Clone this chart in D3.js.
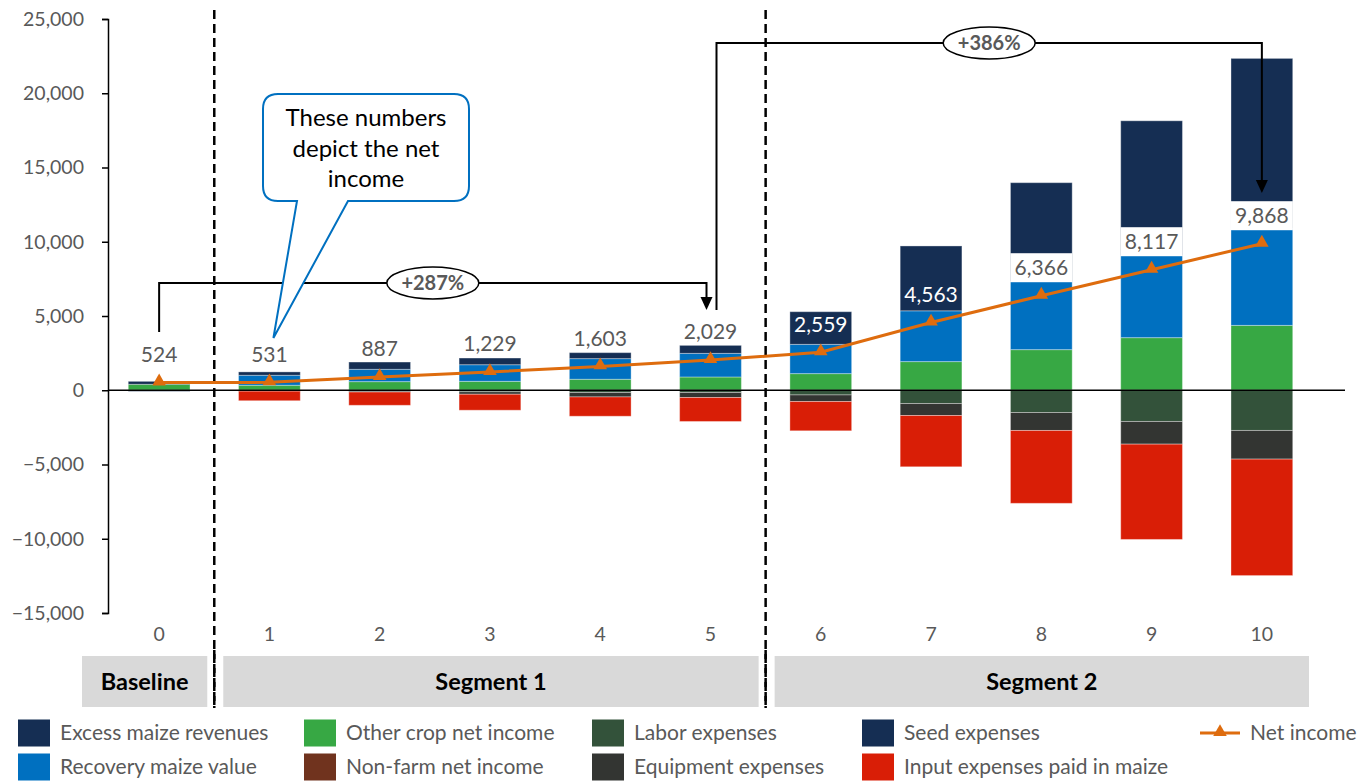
<!DOCTYPE html>
<html>
<head>
<meta charset="utf-8">
<script src="https://cdn.jsdelivr.net/npm/d3@7"></script>
<style>
  html, body { margin: 0; padding: 0; background: #fff; }
  svg { display: block; font-family: Lato, "Noto Sans", sans-serif; }
</style>
</head>
<body>
<svg id="chart" width="1359" height="782"></svg>
<script>
// ---------------- data ----------------
const years = ["0", "1", "2", "3", "4", "5", "6", "7", "8", "9", "10"];
const excessMaize   = [200, 228, 490, 450, 403, 538, 2200, 4368, 6653, 9073, 11460];
const recoveryMaize = [0, 672, 830, 1120, 1390, 1590, 1970, 3420, 4590, 5531, 6519];
const otherCrop     = [400, 336, 580, 600, 740, 894, 1120, 1929, 2735, 3542, 4368];
const nonFarm       = [0, 0, 0, 0, 0, 0, 0, 0, 0, 0, 0];
const labor         = [0, -30, -60, -100, -150, -150, -316, -894, -1499, -2103, -2708];
const equipment     = [0, -30, -60, -170, -300, -340, -444, -806, -1210, -1526, -1929];
const inputMaize    = [0, -645, -893, -1075, -1300, -1613, -1970, -3454, -4906, -6418, -7843];
const seed          = [-76, 0, 0, 0, 0, 0, 0, 0, 0, 0, 0];
const netIncome     = [524, 531, 887, 1229, 1603, 2029, 2559, 4563, 6366, 8117, 9868];
const yTicks = [-15000, -10000, -5000, 0, 5000, 10000, 15000, 20000, 25000];
const segments = [
  {name: "Baseline", from: "0", to: "0"},
  {name: "Segment 1", from: "1", to: "5"},
  {name: "Segment 2", from: "6", to: "10"}
];
const growthLabels = ["+287%", "+386%"];
const calloutText = ["These numbers", "depict the net", "income"];

const series = [
  {key: "other",     name: "Other crop net income",        values: otherCrop,     color: "#37A844"},
  {key: "nonfarm",   name: "Non-farm net income",          values: nonFarm,       color: "#70331E"},
  {key: "recovery",  name: "Recovery maize value",         values: recoveryMaize, color: "#0070C0"},
  {key: "excess",    name: "Excess maize revenues",        values: excessMaize,   color: "#152E53"},
  {key: "labor",     name: "Labor expenses",               values: labor,         color: "#33523A"},
  {key: "equipment", name: "Equipment expenses",           values: equipment,     color: "#333532"},
  {key: "input",     name: "Input expenses paid in maize", values: inputMaize,    color: "#D91E06"},
  {key: "seed",      name: "Seed expenses",                values: seed,          color: "#152E53"}
];
const lineColor = "#DE6C0E";
const textGrey = "#595959";

// ---------------- scales ----------------
const svg = d3.select("#chart");
const x = d3.scaleBand().domain(years).range([104, 1317]).paddingInner(0.44).paddingOuter(0.22);
const y = d3.scaleLinear().domain([-15000, 25000]).range([613, 19]);
const cx = d => x(d) + x.bandwidth() / 2;

const table = years.map((yr, i) => {
  const row = {year: yr};
  series.forEach(s => row[s.key] = s.values[i]);
  return row;
});
const stacked = d3.stack().keys(series.map(s => s.key)).offset(d3.stackOffsetDiverging)(table);

// ---------------- axes ----------------
const yAxis = svg.append("g").attr("transform", "translate(108,0)")
  .call(d3.axisLeft(y).tickValues(yTicks).tickSize(6).tickPadding(18).tickFormat(d3.format(",")));
yAxis.select(".domain").attr("stroke", "#000").attr("stroke-width", 1.5);
yAxis.selectAll(".tick line").attr("stroke", "#000").attr("stroke-width", 1.5);
yAxis.selectAll(".tick text").attr("fill", textGrey).style("font-size", "19.5px").style("font-family", "Lato, sans-serif");

const xAxis = svg.append("g").attr("transform", "translate(0,613)")
  .call(d3.axisBottom(x).tickSize(0).tickPadding(14));
xAxis.select(".domain").remove();
xAxis.selectAll(".tick text").attr("fill", textGrey).style("font-size", "19.5px").style("font-family", "Lato, sans-serif");

// ---------------- bars ----------------
const layers = svg.append("g").selectAll("g").data(stacked).join("g")
  .attr("fill", (d, i) => series[i].color);
layers.selectAll("rect").data(d => d).join("rect")
  .attr("x", d => x(d.data.year))
  .attr("width", x.bandwidth())
  .attr("y", d => y(Math.max(d[0], d[1])))
  .attr("height", d => Math.abs(y(d[0]) - y(d[1])))
  .attr("stroke", "rgba(255,255,255,0.35)")
  .attr("stroke-width", 1);

// zero line
svg.append("line").attr("x1", 108).attr("x2", 1345).attr("y1", y(0)).attr("y2", y(0))
  .attr("stroke", "#000").attr("stroke-width", 1.6);

// ---------------- dashed separators ----------------
[["0", "1"], ["5", "6"]].forEach(([a, b]) => {
  const xm = (cx(a) + cx(b)) / 2;
  svg.append("line").attr("x1", xm).attr("x2", xm).attr("y1", 10).attr("y2", 708)
    .attr("stroke", "#000").attr("stroke-width", 2.5).attr("stroke-dasharray", "9,5");
});

// ---------------- net income line ----------------
const lineGen = d3.line().x((d, i) => cx(years[i])).y(d => y(d));
svg.append("path").datum(netIncome).attr("d", lineGen)
  .attr("fill", "none").attr("stroke", lineColor).attr("stroke-width", 3);
const tri = d3.symbol().type(d3.symbolTriangle).size(80);
svg.append("g").selectAll("path").data(netIncome).join("path")
  .attr("d", tri)
  .attr("transform", (d, i) => `translate(${cx(years[i])},${y(d) - 1})`)
  .attr("fill", lineColor);

// ---------------- net income labels ----------------
const darkLabels = new Set([6, 7]);
const lbl = svg.append("g").selectAll("g").data(netIncome).join("g")
  .attr("transform", (d, i) => `translate(${cx(years[i])},${y(d) - 28})`);
lbl.filter((d, i) => !darkLabels.has(i) && i >= 8).append("rect")
  .attr("x", -31).attr("y", -14.5).attr("width", 62).attr("height", 29)
  .attr("fill", "#fff");
lbl.append("text")
  .attr("text-anchor", "middle").attr("dy", "0.35em")
  .style("font-size", "21px")
  .attr("fill", (d, i) => darkLabels.has(i) ? "#fff" : textGrey)
  .text(d => d3.format(",")(d));

// ---------------- growth brackets ----------------
function growth(x1, x2, yStart, yTop, tipY, label) {
  const g = svg.append("g");
  g.append("path").attr("d", `M${x1},${yStart} V${yTop} H${x2} V${tipY - 12}`)
    .attr("fill", "none").attr("stroke", "#000").attr("stroke-width", 2);
  g.append("path").attr("d", `M${x2 - 6},${tipY - 13} L${x2 + 6},${tipY - 13} L${x2},${tipY} Z`).attr("fill", "#000");
  const mx = (x1 + x2) / 2;
  g.append("ellipse").attr("cx", mx).attr("cy", yTop).attr("rx", 46).attr("ry", 16)
    .attr("fill", "#fff").attr("stroke", "#000").attr("stroke-width", 1.5);
  g.append("text").attr("x", mx).attr("y", yTop).attr("dy", "0.35em")
    .attr("text-anchor", "middle").attr("fill", textGrey)
    .style("font-size", "20px").style("font-weight", "bold").text(label);
}
growth(cx("0"), cx("5") - 4, 332, 283, 310, growthLabels[0]);
growth(cx("5") + 6, cx("10"), 310, 43, 193, growthLabels[1]);

// ---------------- callout ----------------
(function () {
  const l = 263, r = 469, t = 94, b = 201, rad = 15;
  const p1 = 297, p2 = 348, tipX = cx("1") + 4, tipY = 338;
  const d = `M${l + rad},${t} H${r - rad} Q${r},${t} ${r},${t + rad} V${b - rad} Q${r},${b} ${r - rad},${b}
    H${p2} L${tipX},${tipY} L${p1},${b} H${l + rad} Q${l},${b} ${l},${b - rad} V${t + rad} Q${l},${t} ${l + rad},${t} Z`;
  svg.append("path").attr("d", d).attr("fill", "#fff").attr("stroke", "#0070C0").attr("stroke-width", 2);
  svg.append("g").selectAll("text").data(calloutText).join("text")
    .attr("x", (l + r) / 2).attr("y", (d, i) => 118 + i * 30.5).attr("dy", "0.35em")
    .attr("text-anchor", "middle").attr("fill", "#000").style("font-size", "24px")
    .text(d => d);
})();

// ---------------- segment bands ----------------
const segG = svg.append("g");
segments.forEach((s, i) => {
  const x0 = i === 0 ? 82 : (cx(years[years.indexOf(s.from) - 1]) + cx(s.from)) / 2 + 9;
  const x1 = i === segments.length - 1 ? 1309 : (cx(s.to) + cx(years[years.indexOf(s.to) + 1])) / 2 - 7;
  segG.append("rect").attr("x", x0).attr("y", 656).attr("width", x1 - x0).attr("height", 51)
    .attr("fill", "#D9D9D9");
  segG.append("text").attr("x", (x0 + x1) / 2).attr("y", 682).attr("dy", "0.35em")
    .attr("text-anchor", "middle").attr("fill", "#000")
    .style("font-size", "23.5px").style("font-weight", "bold").text(s.name);
});
[["0", "1"], ["5", "6"]].forEach(([a, b]) => {
  const xm = (cx(a) + cx(b)) / 2;
  svg.append("line").attr("x1", xm).attr("x2", xm).attr("y1", 650).attr("y2", 708)
    .attr("stroke", "#000").attr("stroke-width", 2.5).attr("stroke-dasharray", "9,5");
});

// ---------------- legend ----------------
const legendItems = [
  {name: "Excess maize revenues", key: "excess", col: 0, row: 0},
  {name: "Recovery maize value", key: "recovery", col: 0, row: 1},
  {name: "Other crop net income", key: "other", col: 1, row: 0},
  {name: "Non-farm net income", key: "nonfarm", col: 1, row: 1},
  {name: "Labor expenses", key: "labor", col: 2, row: 0},
  {name: "Equipment expenses", key: "equipment", col: 2, row: 1},
  {name: "Seed expenses", key: "seed", col: 3, row: 0},
  {name: "Input expenses paid in maize", key: "input", col: 3, row: 1}
];
const colX = [18, 304, 592, 862];
const rowY = [733, 767];
const leg = svg.append("g");
legendItems.forEach(it => {
  const s = series.find(d => d.key === it.key);
  leg.append("rect").attr("x", colX[it.col]).attr("y", rowY[it.row] - 13.5).attr("width", 32).attr("height", 27)
    .attr("fill", s.color);
  leg.append("text").attr("x", colX[it.col] + 42).attr("y", rowY[it.row]).attr("dy", "0.35em")
    .attr("fill", textGrey).style("font-size", "21px").text(it.name);
});
leg.append("line").attr("x1", 1200).attr("x2", 1240).attr("y1", 733).attr("y2", 733)
  .attr("stroke", lineColor).attr("stroke-width", 3);
leg.append("path").attr("d", tri).attr("transform", "translate(1220,732)").attr("fill", lineColor);
leg.append("text").attr("x", 1250).attr("y", 733).attr("dy", "0.35em")
  .attr("fill", textGrey).style("font-size", "21px").text("Net income");
</script>
</body>
</html>
